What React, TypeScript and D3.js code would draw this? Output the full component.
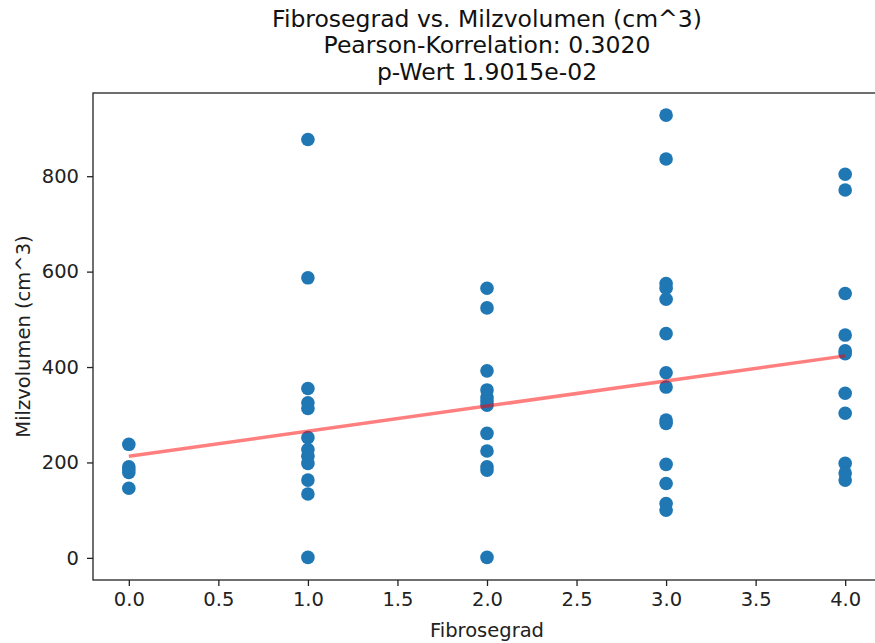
import * as d3 from "d3";
import React, { useEffect, useRef } from "react";

// Milzvolumen in cm^3 per Fibrosegrad
const grades: number[] = [0, 1, 2, 3, 4];
const volGrad0: number[] = [238, 191, 185, 179, 146];
const volGrad1: number[] = [877, 587, 355, 325, 313, 252, 227, 213, 198, 163, 134, 1];
const volGrad2: number[] = [565, 524, 392, 352, 337, 329, 320, 261, 224, 191, 184, 1];
const volGrad3: number[] = [928, 836, 575, 565, 542, 470, 388, 358, 289, 282, 196, 156, 114, 100];
const volGrad4: number[] = [804, 771, 554, 467, 434, 428, 345, 303, 198, 178, 163];
const volumes: number[][] = [volGrad0, volGrad1, volGrad2, volGrad3, volGrad4];

// regression line
const fitIntercept = 213;
const fitSlope = 52.6;

const xTicks = [0, 0.5, 1, 1.5, 2, 2.5, 3, 3.5, 4];
const yTicks = [0, 200, 400, 600, 800];
const titleLines = [
    "Fibrosegrad vs. Milzvolumen (cm^3)",
    "Pearson-Korrelation: 0.3020",
    "p-Wert 1.9015e-02",
];

type pt = { grad: number; vol: number };
const points: pt[] = grades.flatMap((g, i) => volumes[i].map((v) => ({ grad: g, vol: v })));

const WIDTH = 875;
const HEIGHT = 643;
const MARGIN = { top: 93, right: -6, bottom: 63, left: 93 };
const FONT = "DejaVu Sans, sans-serif";
const TICK_FS = 19.5;

const App: React.FC = () => {
    const axesRef = useRef<SVGGElement>(null);
    const boundsWidth = WIDTH - MARGIN.left - MARGIN.right;
    const boundsHeight = HEIGHT - MARGIN.top - MARGIN.bottom;

    const xScale = d3.scaleLinear().domain([-0.2, 4.2]).range([0, boundsWidth]);
    const yMax = d3.max(points, (d) => d.vol) || 0;
    const yPad = yMax * 0.05;
    const yScale = d3
        .scaleLinear()
        .domain([-yPad, yMax + yPad])
        .range([boundsHeight, 0]);

    useEffect(() => {
        const g = d3.select(axesRef.current);
        g.selectAll("*").remove();

        const xAxis = g
            .append("g")
            .attr("transform", `translate(0,${boundsHeight})`)
            .call(
                d3
                    .axisBottom(xScale)
                    .tickValues(xTicks)
                    .tickFormat((d) => d3.format(".1f")(d as number))
                    .tickSize(6)
                    .tickPadding(6)
            );
        const yAxis = g.append("g").call(
            d3
                .axisLeft(yScale)
                .tickValues(yTicks)
                .tickFormat((d) => String(d))
                .tickSize(6)
                .tickPadding(8)
        );
        [xAxis, yAxis].forEach((a) => {
            a.select(".domain").remove();
            a.selectAll("line").attr("stroke", "#222").attr("stroke-width", 1.3);
            a.selectAll("text")
                .attr("font-family", FONT)
                .attr("font-size", TICK_FS)
                .attr("fill", "#222");
        });

        // frame
        g.append("rect")
            .attr("width", boundsWidth)
            .attr("height", boundsHeight)
            .attr("fill", "none")
            .attr("stroke", "#222")
            .attr("stroke-width", 1.3);
    }, []);

    const lineBuilder = d3
        .line<number>()
        .x((d) => xScale(d))
        .y((d) => yScale(fitIntercept + fitSlope * d));
    const fitPath = lineBuilder([0, 4]) || "";

    return (
        <svg
            width={WIDTH}
            height={HEIGHT}
            style={{ position: "absolute", left: 0, top: 0, background: "#fff" }}
        >
            <g transform={`translate(${MARGIN.left},${MARGIN.top})`}>
                {points.map((d, i) => (
                    <circle
                        key={i}
                        cx={xScale(d.grad)}
                        cy={yScale(d.vol)}
                        r={6.8}
                        fill="#1f77b4"
                    />
                ))}
                <path
                    d={fitPath}
                    stroke="#ff0000"
                    strokeOpacity={0.5}
                    strokeWidth={3.5}
                    fill="none"
                />
                <g ref={axesRef} />
                <text
                    x={boundsWidth / 2}
                    y={boundsHeight + 57}
                    textAnchor="middle"
                    fontFamily={FONT}
                    fontSize={TICK_FS}
                    fill="#222"
                >
                    Fibrosegrad
                </text>
                <text
                    transform={`translate(${-63},${boundsHeight / 2}) rotate(-90)`}
                    textAnchor="middle"
                    fontFamily={FONT}
                    fontSize={TICK_FS}
                    fill="#222"
                >
                    Milzvolumen (cm^3)
                </text>
            </g>
            {titleLines.map((t, i) => (
                <text
                    key={i}
                    x={MARGIN.left + boundsWidth / 2}
                    y={26.5 + i * 26.6}
                    textAnchor="middle"
                    fontFamily={FONT}
                    fontSize={23.5}
                    fill="#111"
                >
                    {t}
                </text>
            ))}
        </svg>
    );
};

export default App;
